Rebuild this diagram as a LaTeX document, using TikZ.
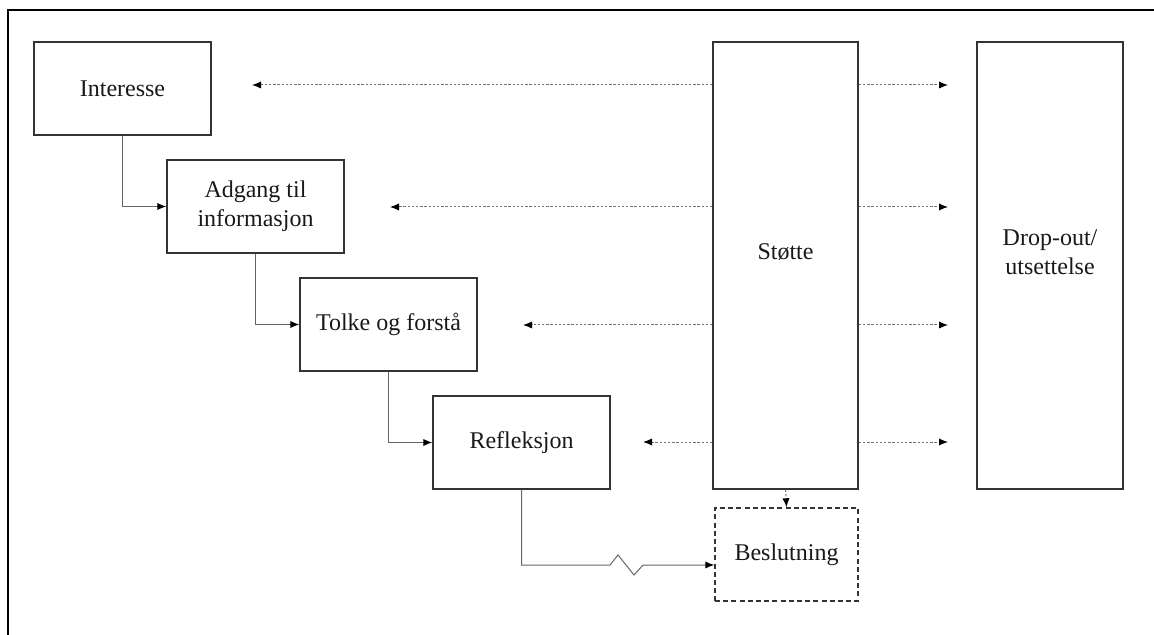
\documentclass[tikz,border=0pt]{standalone}
\usepackage{fontspec}
\setmainfont{Liberation Serif}
\usepackage{tikz}
\usetikzlibrary{arrows.meta}
\usetikzlibrary{positioning}
\usetikzlibrary{calc}

\begin{document}
\begin{tikzpicture}[x=0.5pt, y=-0.5pt,
  box/.style={draw=black!80, line width=0.7pt, text=black!90, align=center,
    inner sep=0pt, minimum width=88.5pt, minimum height=46.5pt,
    font=\fontsize{12}{14.5}\selectfont},
  txt/.style={text=black!90, align=center, font=\fontsize{12}{14.5}\selectfont},
  flow/.style={draw=black!60, line width=0.5pt, -{Latex[length=4.5pt,width=3.6pt,color=black]}},
  hint/.style={draw=black!55, line width=0.5pt, dash pattern=on 1.2pt off 0.9pt,
    -{Latex[length=4.5pt,width=3.6pt,color=black]}}]
  \useasboundingbox (0,0) rectangle (1154,635);

  % frame
  \draw[line width=0.8pt] (8,635) -- (8,10) -- (1154,10);

  % steps down the stair
  \def\xs{122.5}
  \def\ys{88.5}
  \def\dx{133}
  \def\dy{118}
  \node[box] (interesse) at (\xs,\ys) {Interesse};
  \node[box] (adgang) at (\xs+\dx,\ys+\dy) {Adgang til\\informasjon};
  \node[box] (tolke) at (\xs+2*\dx,\ys+2*\dy) {Tolke og forstå};
  \node[box] (refleksjon) at (\xs+3*\dx,\ys+3*\dy) {Refleksjon};

  % tall boxes
  \node[box, minimum width=72.5pt, minimum height=223.5pt] (stotte) at (785.5,265.5) {};
  \node[txt] (stottetxt) at (785.5,252) {Støtte};
  \node[box, minimum width=73pt, minimum height=223.5pt] (dropout) at (1050,265.5) {};
  \node[txt] (dropouttxt) at (1050,252) {Drop-out/\\utsettelse};

  % decision
  \node[box, dash pattern=on 2.5pt off 1.6pt, minimum width=71.5pt] (beslutning) at (786.5,554.5) {Beslutning};

  % solid steps
  \draw[flow] (interesse.south) |- (adgang.west);
  \draw[flow] (adgang.south) |- (tolke.west);
  \draw[flow] (tolke.south) |- (refleksjon.west);
  \coordinate (kink) at (610,565);
  \draw[flow] (refleksjon.south) |- (kink) -- ++(8,-10) -- ++(16,20) -- ++(9,-10)
    -- (kink -| beslutning.west);

  % dotted support arrows
  \coordinate (li) at (252,85);
  \coordinate (la) at (390,207);
  \coordinate (lt) at (523,325);
  \coordinate (lr) at (643,442);
  \draw[hint] (li -| stotte.west) -- (li);
  \draw[hint] (la -| stotte.west) -- (la);
  \draw[hint] (lt -| stotte.west) -- (lt);
  \draw[hint] (lr -| stotte.west) -- (lr);

  \coordinate (ri) at (948,85);
  \coordinate (ra) at (948,207);
  \coordinate (rt) at (948,325);
  \coordinate (rr) at (948,442);
  \draw[hint] (ri -| stotte.east) -- (ri);
  \draw[hint] (ra -| stotte.east) -- (ra);
  \draw[hint] (rt -| stotte.east) -- (rt);
  \draw[hint] (rr -| stotte.east) -- (rr);

  \draw[hint] (stotte.south) -- (beslutning.north);

\end{tikzpicture}
\end{document}
